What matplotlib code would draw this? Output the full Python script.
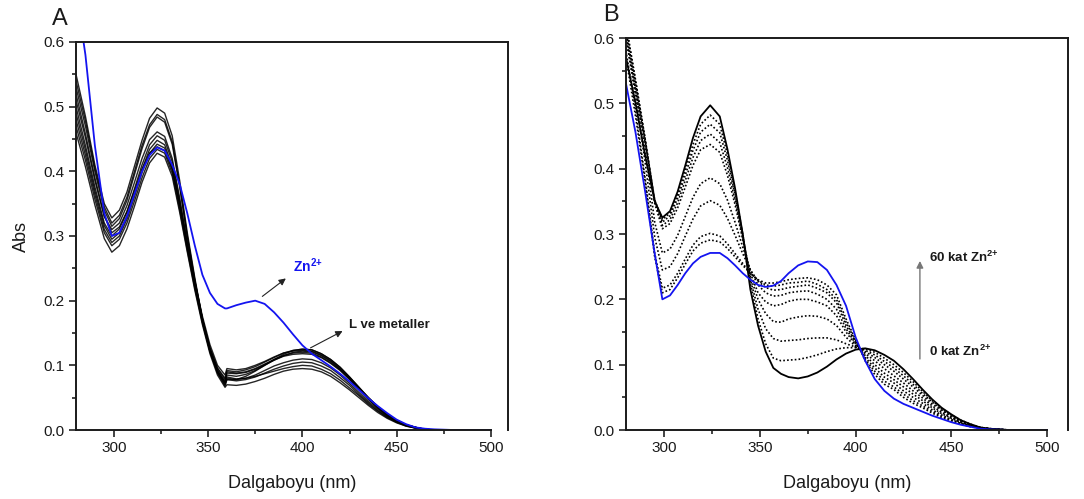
import matplotlib
matplotlib.use("Agg")
import matplotlib.pyplot as plt
from matplotlib.ticker import MultipleLocator

plt.rcParams['font.family'] = ['Liberation Sans', 'DejaVu Sans']
plt.rcParams['mathtext.fontset'] = 'custom'
plt.rcParams['mathtext.rm'] = 'Liberation Sans'
plt.rcParams['mathtext.bf'] = 'Liberation Sans:bold'

# ---------------- Panel A data ----------------
wl_a = [280, 285, 290, 295, 299, 303, 307, 311, 315, 319, 323, 327, 331, 335, 339, 343, 347, 351, 355, 359,
        360, 365, 370, 375, 380, 385, 390, 395, 400, 405, 410, 415, 420, 425, 430, 435, 440, 445, 450, 455,
        460, 465, 470, 480, 490, 500]

a_metals = [
    [.55, .485, .41, .35, .328, .34, .368, .408, .448, .482, .498, .49, .455, .385, .305, .235, .172, .122, .088, .068,
     .078, .078, .083, .091, .1, .109, .117, .123, .125, .124, .118, .109, .097, .082, .066, .05, .036, .024, .015, .008,
     .004, .001, 0, 0, 0, 0],
    [.54, .478, .405, .345, .32, .332, .36, .40, .44, .472, .488, .48, .446, .378, .30, .232, .172, .124, .09, .072,
     .085, .083, .086, .092, .1, .108, .115, .12, .122, .121, .115, .106, .094, .08, .064, .049, .035, .023, .014, .008,
     .004, .001, 0, 0, 0, 0],
    [.53, .47, .4, .34, .315, .327, .355, .395, .435, .468, .484, .476, .442, .375, .298, .23, .172, .125, .092, .075,
     .09, .088, .09, .095, .102, .109, .115, .119, .12, .119, .113, .104, .093, .079, .063, .048, .034, .022, .014, .008,
     .004, .001, 0, 0, 0, 0],
    [.51, .452, .386, .33, .31, .32, .347, .383, .42, .449, .461, .454, .42, .358, .29, .228, .172, .127, .096, .08,
     .092, .09, .093, .098, .105, .112, .119, .123, .125, .124, .118, .109, .097, .082, .066, .05, .036, .024, .015, .008,
     .004, .001, 0, 0, 0, 0],
    [.50, .44, .376, .32, .30, .311, .337, .373, .41, .441, .455, .448, .415, .354, .287, .225, .169, .123, .092, .074,
     .08, .078, .08, .085, .092, .099, .104, .108, .11, .109, .104, .096, .085, .072, .058, .044, .032, .021, .013, .007,
     .003, .001, 0, 0, 0, 0],
    [.49, .433, .37, .316, .295, .305, .331, .366, .403, .434, .448, .441, .408, .348, .283, .222, .167, .121, .089, .07,
     .078, .076, .078, .082, .088, .094, .099, .103, .105, .104, .099, .092, .081, .069, .055, .042, .03, .02, .012, .007,
     .003, .001, 0, 0, 0, 0],
    [.48, .425, .364, .31, .29, .3, .326, .361, .398, .428, .442, .436, .404, .346, .283, .224, .171, .127, .095, .078,
     .088, .087, .089, .094, .101, .108, .114, .117, .118, .117, .112, .103, .092, .078, .062, .047, .034, .023, .014, .008,
     .004, .001, 0, 0, 0, 0],
    [.47, .417, .357, .305, .285, .295, .32, .354, .39, .42, .434, .428, .397, .34, .278, .219, .166, .122, .09, .073,
     .082, .079, .08, .083, .087, .091, .095, .098, .1, .099, .094, .087, .077, .065, .053, .04, .029, .019, .012, .006,
     .003, .001, 0, 0, 0, 0],
    [.46, .407, .348, .296, .275, .285, .311, .346, .383, .413, .428, .422, .392, .336, .275, .216, .163, .118, .085, .066,
     .07, .069, .071, .075, .08, .086, .091, .094, .095, .094, .09, .083, .073, .062, .05, .038, .027, .018, .011, .006,
     .003, .001, 0, 0, 0, 0],
    [.52, .458, .39, .331, .305, .314, .338, .37, .403, .428, .438, .432, .402, .348, .287, .229, .176, .132, .1, .085,
     .095, .093, .095, .1, .106, .113, .119, .122, .123, .122, .116, .107, .095, .081, .065, .05, .036, .024, .015, .008,
     .004, .001, 0, 0, 0, 0],
]

a_zn = [.68, .58, .44, .335, .30, .305, .33, .365, .40, .425, .437, .432, .41, .38, .335, .285, .24, .212, .195, .188,
        .188, .193, .197, .2, .195, .182, .166, .148, .131, .118, .108, .098, .087, .075, .062, .049, .037, .026, .016, .009,
        .004, .002, .001, 0, 0, 0]

# ---------------- Panel B data ----------------
wl_b = [280, 285, 290, 295, 299, 303, 307, 311, 315, 319, 324, 329, 333, 337, 341, 345, 349, 353, 357, 361,
        365, 370, 375, 380, 385, 390, 395, 400, 405, 410, 415, 420, 425, 430, 435, 440, 445, 450, 455, 460,
        465, 470, 480, 490, 500]

b_0eq = [.57, .5, .42, .35, .325, .335, .365, .405, .447, .48, .497, .48, .43, .37, .3, .215, .16, .12, .095, .086,
         .081, .079, .082, .088, .097, .108, .117, .123, .125, .122, .115, .106, .093, .078, .062, .047, .034, .024, .015, .009,
         .004, .002, 0, 0, 0]

b_60eq = [.53, .455, .365, .27, .2, .206, .222, .24, .255, .265, .271, .271, .263, .252, .24, .23, .222, .219, .221, .228,
          .24, .252, .258, .257, .245, .222, .19, .142, .106, .078, .06, .048, .04, .034, .028, .022, .017, .012, .008, .005,
          .002, .001, 0, 0, 0]

b_steps = [
    [.6, .52, .44, .352, .322, .332, .36, .398, .437, .468, .482, .468, .422, .365, .3, .225, .17, .132, .11, .106,
     .107, .108, .111, .115, .12, .124, .126, .126, .124, .119, .11, .1, .088, .074, .059, .045, .033, .023, .015, .009,
     .004, .002, 0, 0, 0],
    [.61, .53, .445, .352, .318, .328, .355, .39, .428, .456, .468, .455, .413, .36, .3, .23, .185, .155, .14, .136,
     .137, .138, .14, .141, .141, .138, .132, .127, .122, .115, .105, .095, .083, .07, .056, .043, .031, .022, .014, .008,
     .004, .002, 0, 0, 0],
    [.62, .535, .445, .35, .313, .322, .348, .382, .417, .443, .453, .44, .402, .352, .295, .235, .2, .178, .166, .165,
     .17, .173, .175, .174, .17, .16, .142, .128, .12, .111, .1, .09, .078, .066, .053, .04, .03, .021, .013, .008,
     .004, .002, 0, 0, 0],
    [.62, .535, .445, .347, .308, .316, .34, .372, .405, .429, .437, .425, .39, .345, .292, .24, .21, .196, .19, .192,
     .197, .2, .2, .196, .19, .175, .15, .13, .117, .106, .094, .083, .072, .06, .049, .037, .027, .019, .012, .007,
     .004, .002, 0, 0, 0],
    [.61, .52, .43, .318, .271, .277, .298, .327, .356, .377, .386, .377, .352, .318, .28, .245, .222, .21, .205, .206,
     .21, .212, .213, .208, .2, .185, .155, .132, .114, .1, .087, .077, .066, .055, .045, .034, .025, .018, .011, .007,
     .003, .002, 0, 0, 0],
    [.6, .51, .41, .295, .245, .25, .27, .297, .323, .343, .351, .344, .324, .298, .27, .245, .228, .218, .214, .215,
     .218, .22, .222, .217, .21, .195, .16, .134, .111, .095, .081, .072, .06, .05, .041, .031, .023, .016, .01, .006,
     .003, .001, 0, 0, 0],
    [.58, .49, .385, .27, .217, .222, .24, .262, .283, .296, .301, .297, .285, .27, .255, .24, .229, .222, .22, .222,
     .225, .226, .228, .223, .215, .2, .165, .136, .108, .09, .075, .066, .055, .045, .037, .028, .021, .015, .01, .006,
     .003, .001, 0, 0, 0],
    [.57, .48, .38, .265, .21, .215, .233, .254, .274, .286, .291, .288, .278, .265, .252, .24, .23, .225, .225, .227,
     .23, .232, .233, .23, .222, .207, .17, .138, .106, .085, .07, .062, .05, .041, .034, .026, .019, .014, .009, .005,
     .003, .001, 0, 0, 0],
]

xticks = [300, 350, 400, 450, 500]
yticks = [0.0, 0.1, 0.2, 0.3, 0.4, 0.5, 0.6]
BLUE = '#1414f0'
TXT = '#1a1a1a'
ZN = r'Zn$^{\mathbf{2{+}}}$'

W, H = 1084, 499
fig = plt.figure(figsize=(W / 100, H / 100), dpi=100)

def px_axes(l, r, t, b):
    return fig.add_axes([l / W, 1 - b / H, (r - l) / W, (b - t) / H])

axA = px_axes(76, 508, 42, 430)
axB = px_axes(626, 1068, 38, 430)

def style(ax, xmax):
    ax.set_xlim(280, xmax)
    ax.set_ylim(0, 0.6)
    ax.set_xticks(xticks)
    ax.set_yticks(yticks)
    ax.set_yticklabels([f"{v:.1f}" for v in yticks])
    ax.xaxis.set_minor_locator(MultipleLocator(25))
    ax.yaxis.set_minor_locator(MultipleLocator(0.05))
    ax.tick_params(which='both', direction='out', top=False, right=False, colors='#222222',
                   labelsize=11, labelcolor=TXT, width=1.2)
    ax.tick_params(which='major', length=5, pad=3)
    ax.tick_params(which='minor', length=3)
    for s in ax.spines.values():
        s.set_linewidth(1.4)
        s.set_color('#1a1a1a')
    ax.spines['bottom'].set_bounds(280, 500)
    ax.set_xlabel('Dalgaboyu (nm)', fontsize=13, color=TXT, labelpad=14)

# Panel A
for ys in a_metals:
    axA.plot(wl_a, ys, color='black', lw=1.0, alpha=0.85, solid_joinstyle='round')
axA.plot(wl_a, a_zn, color=BLUE, lw=1.3)
style(axA, 509)
axA.set_ylabel('Abs', fontsize=13, color=TXT, labelpad=10)
axA.annotate('', xy=(392.4, 0.237), xytext=(377.6, 0.204),
             arrowprops=dict(arrowstyle='-|>', color='#222222', lw=0.8, mutation_scale=10))
axA.text(395.0, 0.254, ZN, color=BLUE, fontsize=10, fontweight='bold', va='center', ha='left')
axA.annotate('', xy=(422.6, 0.155), xytext=(403.0, 0.125),
             arrowprops=dict(arrowstyle='-|>', color='#222222', lw=0.8, mutation_scale=10))
axA.text(424.5, 0.162, 'L ve metaller', color=TXT, fontsize=9.5, fontweight='bold', va='center', ha='left')
fig.text(52 / W, 1 - 19 / H, 'A', fontsize=17, color=TXT, va='center', ha='left')

# Panel B
for ys in b_steps:
    axB.plot(wl_b, ys, color='black', lw=1.2, linestyle=(0, (1, 1.3)))
axB.plot(wl_b, b_0eq, color='black', lw=1.3)
axB.plot(wl_b, b_60eq, color=BLUE, lw=1.3)
style(axB, 511)
axB.annotate('', xy=(433.6, 0.263), xytext=(433.6, 0.1045),
             arrowprops=dict(arrowstyle='-|>', color='#777777', lw=1.0, mutation_scale=10))
axB.text(438.6, 0.264, r'60 kat ' + ZN, color=TXT, fontsize=9.5, fontweight='bold', va='center', ha='left')
axB.text(438.3, 0.12, r'0 kat ' + ZN, color=TXT, fontsize=9.5, fontweight='bold', va='center', ha='left')
fig.text(603 / W, 1 - 15 / H, 'B', fontsize=17, color=TXT, va='center', ha='left')

fig.savefig('out.png', dpi=100)
